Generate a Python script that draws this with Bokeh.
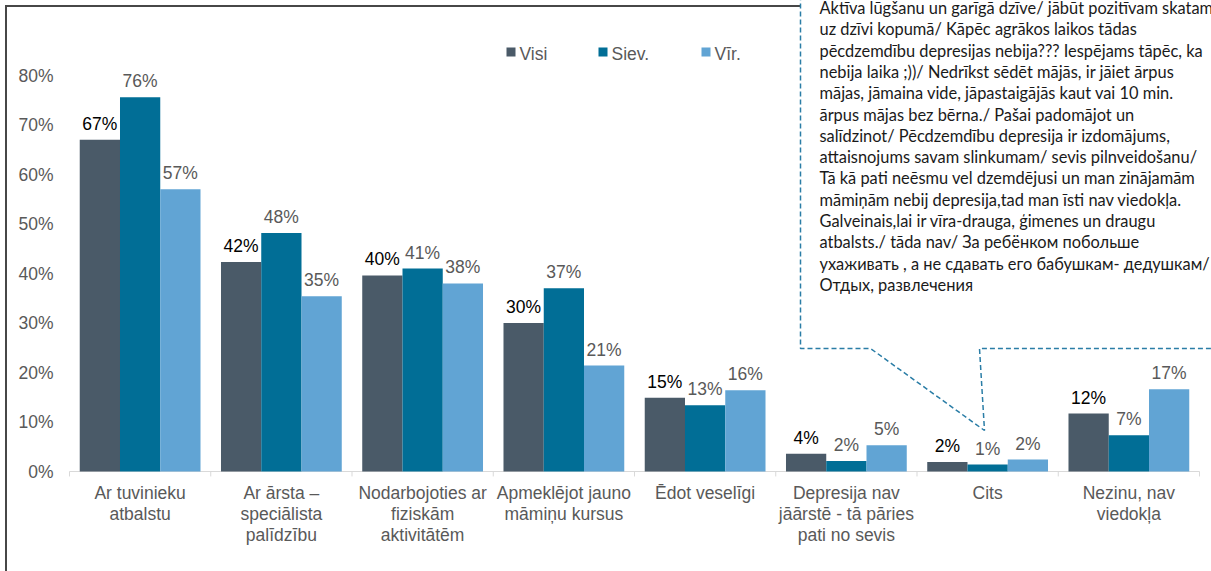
from bokeh.plotting import figure, ColumnDataSource
from bokeh.models import Range1d, FactorRange, FixedTicker, PrintfTickFormatter
from bokeh.transform import dodge
from bokeh.core.properties import value
from bokeh.embed import file_html
from bokeh.resources import INLINE

# ---------------- data ----------------
categories = [
    "Ar tuvinieku\natbalstu",
    "Ar ārsta –\nspeciālista\npalīdzību",
    "Nodarbojoties ar\nfiziskām\naktivitātēm",
    "Apmeklējot jauno\nmāmiņu kursus",
    "Ēdot veselīgi",
    "Depresija nav\njāārstē - tā pāries\npati no sevis",
    "Cits",
    "Nezinu, nav\nviedokļa",
]
series = ["Visi", "Siev.", "Vīr."]
visi = [67.0, 42.3, 39.6, 30.0, 14.9, 3.6, 1.9, 11.7]
siev = [75.6, 48.2, 41.0, 37.0, 13.4, 2.1, 1.4, 7.3]
vir = [57.0, 35.4, 38.0, 21.4, 16.4, 5.3, 2.4, 16.6]
y_ticks = [0, 10, 20, 30, 40, 50, 60, 70, 80]

callout_lines = [
    "Aktīva lūgšanu un garīgā dzīve/ jābūt pozitīvam skatam",
    "uz dzīvi kopumā/ Kāpēc agrākos laikos tādas",
    "pēcdzemdību depresijas nebija??? Iespējams tāpēc, ka",
    "nebija laika ;))/ Nedrīkst sēdēt mājās, ir jāiet ārpus",
    "mājas, jāmaina vide, jāpastaigājās kaut vai 10 min.",
    "ārpus mājas bez bērna./ Pašai padomājot un",
    "salīdzinot/ Pēcdzemdību depresija ir izdomājums,",
    "attaisnojums savam slinkumam/ sevis pilnveidošanu/",
    "Tā kā pati neēsmu vel dzemdējusi un man zinājamām",
    "māmiņām nebij depresija,tad man īsti nav viedokļa.",
    "Galveinais,lai ir vīra-drauga, ģimenes un draugu",
    "atbalsts./ tāda nav/ За ребёнком побольше",
    "ухаживать , а не сдавать его бабушкам- дедушкам/",
    "Отдых, развлечения",
]

# ---------------- style ----------------
colors = ["#4a5a68", "#016e96", "#61a4d4"]
label_colors = ["#000000", "#595959", "#595959"]
FONT = "Liberation Sans"
FS = "17.5px"
GRAY = "#595959"

source = ColumnDataSource(dict(
    cat=categories,
    visi=visi, siev=siev, vir=vir,
    visi_lbl=[f"{round(v)}%" for v in visi],
    siev_lbl=[f"{round(v)}%" for v in siev],
    vir_lbl=[f"{round(v)}%" for v in vir],
))

W, H = 1211, 571
n = len(categories)
AX0, AX1 = 69.0, 1199.0            # page x of the category axis ends
FRAME_L, FRAME_B = 57, 477         # frame left / bottom (page px)
PXY = 4.95                         # px per percent
px_per_cat = (AX1 - AX0) / n
pad = (AX0 - FRAME_L) / px_per_cat  # per side


def sx(px):
    """page-pixel x -> synthetic categorical coordinate"""
    return (px - AX0) / px_per_cat


p = figure(
    x_range=FactorRange(*categories, range_padding=pad, range_padding_units="absolute"),
    y_range=Range1d(-(FRAME_B - 471) / PXY, 471 / PXY),
    width=W, height=H,
    output_backend="svg", toolbar_location=None,
    min_border_left=FRAME_L, min_border_right=0, min_border_top=0,
    min_border_bottom=H - FRAME_B,
)
p.extra_y_ranges = {"px": Range1d(FRAME_B, 0)}

p.outline_line_color = None
p.xgrid.grid_line_color = None
p.ygrid.grid_line_color = None
p.background_fill_color = None
p.border_fill_color = None
# outer chart border (left + top), drawn behind the transparent canvas
p.styles = {
    "background-color": "white",
    "background-image": "linear-gradient(#474747, #474747), linear-gradient(#474747, #474747)",
    "background-size": "2px 566px, 795px 2px",
    "background-position": "5px 5px, 5px 5px",
    "background-repeat": "no-repeat",
}

# y axis
p.yaxis.ticker = FixedTicker(ticks=y_ticks)
p.yaxis.formatter = PrintfTickFormatter(format="%d%%")
p.yaxis.axis_line_color = None
p.yaxis.major_tick_line_color = None
p.yaxis.minor_tick_line_color = None
p.yaxis.major_tick_out = 0
p.yaxis.minor_tick_out = 0
p.yaxis.major_label_text_font = FONT
p.yaxis.major_label_text_font_size = FS
p.yaxis.major_label_text_color = GRAY
p.yaxis.major_label_standoff = 4

# x axis
p.xaxis.axis_line_color = None
p.xaxis.major_tick_line_color = None
p.xaxis.minor_tick_line_color = None
p.xaxis.major_tick_out = 0
p.xaxis.minor_tick_out = 0
p.xaxis.major_label_text_font = FONT
p.xaxis.major_label_text_font_size = FS
p.xaxis.major_label_text_color = GRAY
p.xaxis.major_label_standoff = 5
p.xaxis.major_label_text_line_height = 1.05
p.xaxis.major_label_orientation = "horizontal"

# baseline and boundary ticks
p.segment(x0=0, y0=0, x1=n, y1=0, line_color="#d9d9d9", line_width=1)
p.segment(x0=list(range(n + 1)), y0=[0] * (n + 1), x1=list(range(n + 1)),
          y1=[-1.0] * (n + 1), line_color="#d9d9d9", line_width=1)

# bars + labels
bw = 0.285
cols = ["visi", "siev", "vir"]
for i, (col, c, lc) in enumerate(zip(cols, colors, label_colors)):
    off = (i - 1) * bw
    p.vbar(x=dodge("cat", off, range=p.x_range), top=col, width=bw, source=source,
           fill_color=c, line_color=None)
    p.text(x=dodge("cat", off, range=p.x_range), y=col, text=col + "_lbl", source=source,
           text_align="center", text_baseline="alphabetic", y_offset=-16,
           text_font=value(FONT), text_font_size=FS, text_color=lc)

# legend
legend_x = [506, 598, 701]
legend_y = 51.5
p.rect(x=[sx(x + 4.5) for x in legend_x], y=[legend_y] * 3, width=9, height=9,
       width_units="screen", height_units="screen",
       fill_color=colors, line_color=None, y_range_name="px")
p.text(x=[sx(x + 13) for x in legend_x], y=[53] * 3, text=series,
       text_baseline="alphabetic", text_align="left", text_font=value(FONT),
       text_font_size=FS, text_color=GRAY, y_range_name="px")

# callout
p.line(x=[sx(v) for v in [800, 800, 870, 984, 979, 1215]], y=[-5, 348, 348, 430, 348, 348],
       line_color="#2a7da6", line_width=1.5, line_dash="5 3", y_range_name="px")
line_y0, line_dy = 7.0, 21.3
p.text(x=[sx(819)] * len(callout_lines),
       y=[line_y0 + i * line_dy for i in range(len(callout_lines))],
       text=callout_lines, text_baseline="alphabetic", text_align="left",
       text_font=value("Lato"), text_font_size="16.4px", text_color="#1a1a1a",
       y_range_name="px")

open("out.html", "w").write(file_html(p, INLINE))
